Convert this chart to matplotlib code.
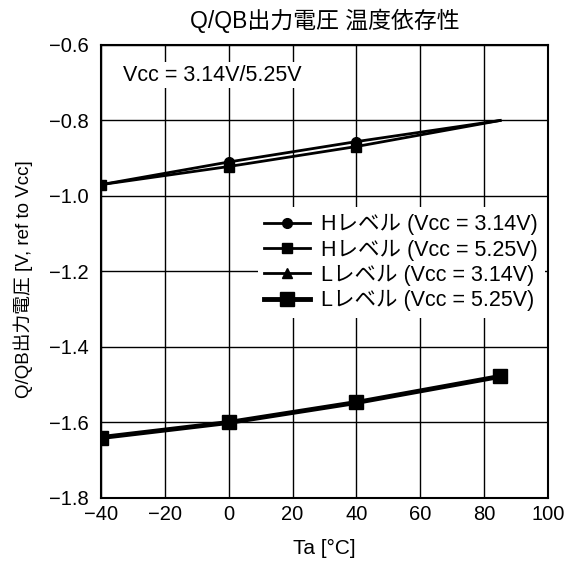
import matplotlib
matplotlib.use("Agg")
import matplotlib.pyplot as plt

plt.rcParams['font.family'] = ['Liberation Sans', 'Noto Sans CJK JP', 'DejaVu Sans']

# temperature points [degC]
ta = [-40, 0, 40, 85]

# output voltage referenced to Vcc [V]
h_314 = [-0.97, -0.91, -0.856, -0.80]
h_525 = [-0.97, -0.922, -0.869, -0.80]
l_314 = [-1.64, -1.60, -1.547, -1.478]
l_525 = [-1.64, -1.60, -1.547, -1.478]

labels = ["Hレベル (Vcc = 3.14V)", "Hレベル (Vcc = 5.25V)",
          "Lレベル (Vcc = 3.14V)", "Lレベル (Vcc = 5.25V)"]

xticks = [-40, -20, 0, 20, 40, 60, 80, 100]
yticks = [-1.8, -1.6, -1.4, -1.2, -1.0, -0.8, -0.6]

fig = plt.figure(figsize=(5.85, 5.62), dpi=100)
ax = fig.add_axes([0.1726, 0.1139, 0.7642, 0.8061])

ax.plot(ta, h_314, color="black", lw=2, marker="o", ms=7, markevery=[0, 1, 2], label=labels[0])
ax.plot(ta, h_525, color="black", lw=2, marker="s", ms=7, markevery=[0, 1, 2], label=labels[1])
ax.plot(ta, l_314, color="black", lw=2, marker="^", ms=7, label=labels[2])
ax.plot(ta, l_525, color="black", lw=3.5, marker="s", ms=10, label=labels[3])

ax.set_xlim(-40, 100)
ax.set_ylim(-1.8, -0.6)
ax.set_xticks(xticks)
ax.set_yticks(yticks)
ax.set_xticklabels([str(v).replace("-", "−") for v in xticks])
ax.set_yticklabels([("%.1f" % v).replace("-", "−") for v in yticks])
ax.grid(True, color="black", lw=1)
ax.tick_params(direction="in", length=0, labelsize=14.5)
ax.tick_params(axis="y", pad=9)
ax.tick_params(axis="x", pad=5)
for s in ax.spines.values():
    s.set_linewidth(1.5)

ax.set_title("Q/QB出力電圧 温度依存性", fontsize=16.5, pad=12)
ax.set_xlabel("Ta [°C]", fontsize=15, labelpad=11)
ax.set_ylabel("Q/QB出力電圧 [V, ref to Vcc]", fontsize=13.5)
ax.yaxis.set_label_coords(-0.152, 0.483)

ax.text(-33, -0.68, "Vcc = 3.14V/5.25V", fontsize=15.5, va="center",
        bbox=dict(facecolor="white", edgecolor="none", pad=2))

leg = ax.legend(loc="upper left", bbox_to_anchor=(0.327, 0.665), frameon=True,
                fontsize=15.5, handlelength=2.1, handletextpad=0.55,
                labelspacing=0.2, borderpad=0.3, fancybox=False)
leg.get_frame().set_edgecolor("none")
leg.get_frame().set_facecolor("white")
leg.get_frame().set_alpha(1)

plt.savefig("out.png", dpi=100)
